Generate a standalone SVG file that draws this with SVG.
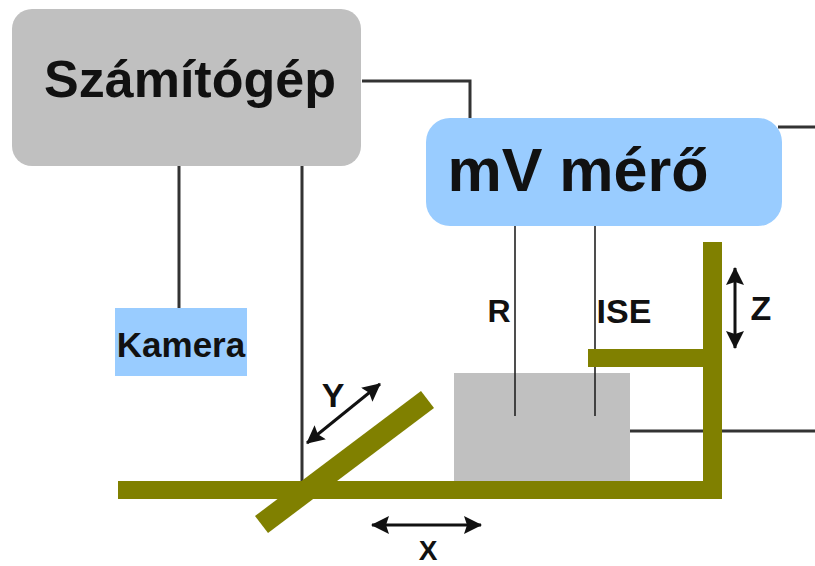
<svg xmlns="http://www.w3.org/2000/svg" width="815" height="566" viewBox="0 0 815 566">
<style>
text{font-family:"Liberation Sans",Arial,sans-serif;font-weight:bold;fill:#111}
.wire{fill:none;stroke:#333;stroke-width:3}
.thin{fill:none;stroke:#222;stroke-width:1.6}
.arm{fill:#808000}
.dbl{stroke:#111;stroke-width:3;fill:none;marker-start:url(#ah);marker-end:url(#ah)}
</style>
<defs>
<marker id="ah" markerUnits="userSpaceOnUse" markerWidth="20" markerHeight="18" refX="17" refY="9" orient="auto-start-reverse"><path d="M0 0L18 9L0 18L3 9Z" fill="#111"/></marker>
</defs>
<g id="connectors">
<path class="wire" d="M362 81H470V120"/>
<path class="wire" d="M778 127H815"/>
<path class="wire" d="M179 165V308"/>
<path class="wire" d="M302 165V482"/>
<path class="wire" d="M630 431H815"/>
<path class="thin" d="M515 225V416"/>
<path class="thin" d="M595 225V416"/>
</g>
<g id="szamitogep"><rect x="12" y="9" width="349" height="157" rx="20" fill="#c0c0c0"/><text x="190" y="97" font-size="52" text-anchor="middle">Számítógép</text></g>
<g id="mv-mero"><rect x="426" y="118" width="356" height="108" rx="24" fill="#99ccff"/><text x="578" y="191" font-size="61" text-anchor="middle">mV mérő</text></g>
<g id="kamera"><rect x="115" y="308" width="132" height="68" fill="#99ccff"/><text x="181" y="357" font-size="35" text-anchor="middle">Kamera</text></g>
<g id="edeny"><rect x="454" y="373" width="176" height="110" fill="#c0c0c0"/><path class="thin" d="M515 373V416M595 373V416"/></g>
<g id="allvany">
<rect class="arm" x="118" y="481" width="604" height="18"/>
<rect class="arm" x="703" y="242" width="19" height="257"/>
<rect class="arm" x="588" y="349" width="120" height="18"/>
<polygon class="arm" points="255,516 421,391 434,408 268,533"/>
</g>
<g id="labels">
<text x="499" y="322" font-size="32" text-anchor="middle">R</text>
<text x="624" y="323" font-size="34" text-anchor="middle">ISE</text>
<text x="761" y="320" font-size="34" text-anchor="middle">Z</text>
<text x="333" y="407" font-size="34" text-anchor="middle">Y</text>
<text x="428" y="560" font-size="28" text-anchor="middle">X</text>
</g>
<g id="mozgas">
<path class="dbl" d="M735 268V348"/>
<path class="dbl" d="M307 443L380 384"/>
<path class="dbl" d="M372 525H481"/>
</g>
</svg>
